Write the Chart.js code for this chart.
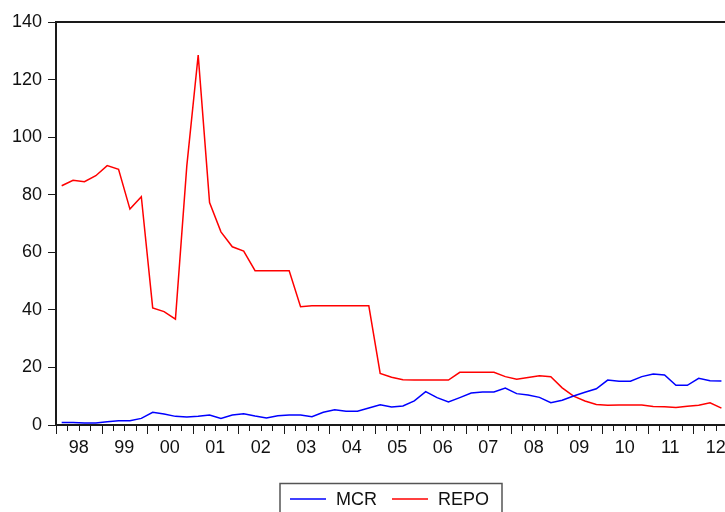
<!DOCTYPE html>
<html>
<head>
<meta charset="utf-8">
<script src="https://cdn.jsdelivr.net/npm/chart.js@4.4.1/dist/chart.umd.min.js"></script>
<style>
  html, body { margin: 0; padding: 0; background: #fff; overflow: hidden; }
  #wrap { position: absolute; left: 0; top: 0; width: 746px; height: 512px; }
</style>
</head>
<body>
<div id="wrap"><canvas id="c"></canvas></div>
<script>
// ---- data ----
const firstYear = 1998;
const lastYear = 2012;
const quarters = [];
for (let y = firstYear; y <= lastYear; y++) {
  for (let q = 1; q <= 4; q++) quarters.push(y + 'Q' + q);
}
const yearLabels = ['98','99','00','01','02','03','04','05','06','07','08','09','10','11','12'];

const mcr = [
  0.9, 0.9, 0.7, 0.7, 1.15, 1.5, 1.5, 2.3,
  4.4, 3.8, 3.0, 2.8, 3.0, 3.5, 2.3, 3.5,
  3.9, 3.1, 2.4, 3.2, 3.5, 3.5, 2.9, 4.4,
  5.3, 4.75, 4.75, 5.9, 7.05, 6.25, 6.6, 8.4,
  11.6, 9.5, 8.0, 9.5, 11.1, 11.5, 11.5, 12.85,
  10.9, 10.4, 9.6, 7.75, 8.6, 10.1, 11.35, 12.6,
  15.6, 15.2, 15.2, 16.8, 17.7, 17.4, 13.8, 13.8,
  16.2, 15.4, 15.3
];
const repo = [
  83.1, 85.0, 84.5, 86.6, 90.1, 88.8, 75.0, 79.3,
  40.7, 39.4, 36.8, 90.0, 128.5, 77.3, 67.1, 61.9,
  60.4, 53.6, 53.6, 53.6, 53.6, 41.1, 41.4, 41.4,
  41.4, 41.4, 41.4, 41.4, 17.9, 16.6, 15.7, 15.6,
  15.6, 15.6, 15.6, 18.3, 18.3, 18.3, 18.3, 16.8,
  15.9, 16.5, 17.1, 16.8, 12.9, 10.0, 8.35, 7.1,
  6.9, 6.95, 6.95, 6.95, 6.4, 6.3, 6.05, 6.55,
  6.9, 7.7, 5.85
];
const yTicks = [0, 20, 40, 60, 80, 100, 120, 140];

// quarter label -> position on a continuous time axis (mid-quarter)
function qPos(label) {
  const y = parseInt(label.slice(0, 4), 10);
  const q = parseInt(label.slice(5), 10);
  return y + (q - 1) / 4 + 0.125;
}
function toPoints(vals) {
  return vals.map((v, i) => ({ x: qPos(quarters[i]), y: v }));
}

const FONT = 'Liberation Sans, Arial, sans-serif';
const AXIS = '#1a1a1a';

// frame (top/right), x tick marks and boxed legend
const extras = {
  id: 'extras',
  afterDraw(chart) {
    const ctx = chart.ctx;
    const a = chart.chartArea;
    const xs = chart.scales.x;
    ctx.save();
    // frame top + right
    ctx.strokeStyle = AXIS;
    ctx.lineWidth = 2;
    ctx.beginPath();
    ctx.moveTo(a.left, a.top);
    ctx.lineTo(a.right, a.top);
    ctx.lineTo(a.right, a.bottom);
    ctx.stroke();
    // x tick marks: long at years, short at quarters
    ctx.lineWidth = 1;
    for (let y = firstYear; y <= lastYear + 1; y++) {
      for (let q = 0; q < 4; q++) {
        if (y === lastYear + 1 && q > 0) break;
        const px = Math.round(xs.getPixelForValue(y + q / 4)) + 0.5;
        const len = q === 0 ? 9 : 6;
        ctx.beginPath();
        ctx.moveTo(px, a.bottom);
        ctx.lineTo(px, a.bottom + len);
        ctx.stroke();
      }
    }
    // legend box
    const bx = 280, by = 483.5, bw = 222, bh = 40;
    ctx.strokeStyle = '#555';
    ctx.lineWidth = 1.5;
    ctx.strokeRect(bx, by, bw, bh);
    let cx = bx + 10;
    const cy = 499;
    ctx.font = '18px ' + FONT;
    ctx.textBaseline = 'middle';
    ctx.textAlign = 'left';
    chart.data.datasets.forEach((ds, i) => {
      ctx.strokeStyle = ds.borderColor;
      ctx.lineWidth = 1.5;
      ctx.beginPath();
      ctx.moveTo(cx, cy);
      ctx.lineTo(cx + 36, cy);
      ctx.stroke();
      cx += 36 + 10;
      ctx.fillStyle = '#111';
      ctx.fillText(ds.label, cx, cy + 1);
      cx += ctx.measureText(ds.label).width + 15;
    });
    ctx.restore();
  }
};

new Chart(document.getElementById('c'), {
  type: 'line',
  data: {
    datasets: [
      { label: 'MCR', data: toPoints(mcr), borderColor: '#0000ff', borderWidth: 1.5,
        pointRadius: 0, tension: 0, fill: false },
      { label: 'REPO', data: toPoints(repo), borderColor: '#ff0000', borderWidth: 1.5,
        pointRadius: 0, tension: 0, fill: false }
    ]
  },
  options: {
    responsive: true,
    maintainAspectRatio: false,
    animation: false,
    events: [],
    layout: { padding: { top: 22, right: 7.5, left: 0, bottom: 0 } },
    plugins: { legend: { display: false }, tooltip: { enabled: false } },
    scales: {
      x: {
        type: 'linear',
        min: firstYear,
        max: lastYear + 1,
        afterBuildTicks(scale) {
          scale.ticks = yearLabels.map((_, i) => ({ value: firstYear + i + 0.5 }));
        },
        afterFit(scale) { scale.height = 87; },
        grid: { display: true, drawOnChartArea: false, drawTicks: false, color: 'rgba(0,0,0,0)' },
        border: { display: true, color: AXIS, width: 2 },
        ticks: {
          autoSkip: false,
          maxRotation: 0,
          padding: 12,
          color: '#111',
          font: { family: FONT, size: 18 },
          callback(value) { return yearLabels[Math.floor(value) - firstYear]; }
        }
      },
      y: {
        min: 0,
        max: 140,
        afterBuildTicks(scale) { scale.ticks = yTicks.map(v => ({ value: v })); },
        afterFit(scale) { scale.width = 56; },
        grid: { display: true, drawOnChartArea: false, drawTicks: true, tickLength: 8,
                tickColor: AXIS, tickWidth: 1 },
        border: { display: true, color: AXIS, width: 2 },
        ticks: {
          padding: 6,
          color: '#111',
          font: { family: FONT, size: 18 }
        }
      }
    }
  },
  plugins: [extras]
});
</script>
</body>
</html>
